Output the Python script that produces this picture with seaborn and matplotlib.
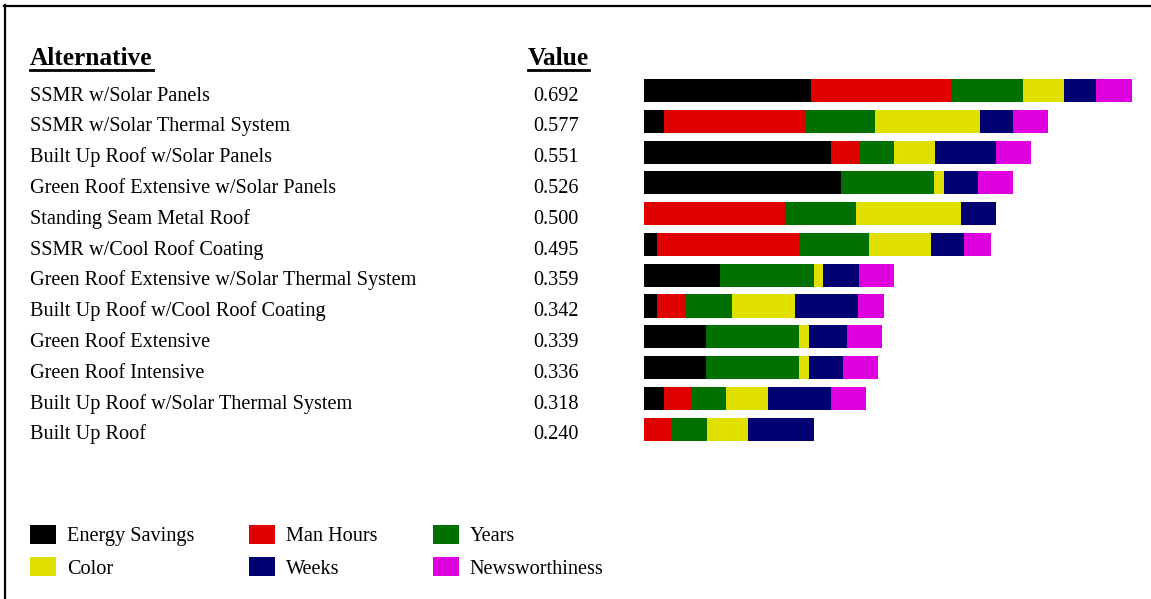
import matplotlib
matplotlib.use("Agg")
import matplotlib.pyplot as plt
from matplotlib.lines import Line2D
from matplotlib.patches import Patch
from matplotlib.transforms import IdentityTransform
import matplotlib.transforms as mtrans
import pandas as pd
import seaborn as sns

# ---------------- data ----------------
alternatives = [
    "SSMR w/Solar Panels",
    "SSMR w/Solar Thermal System",
    "Built Up Roof w/Solar Panels",
    "Green Roof Extensive w/Solar Panels",
    "Standing Seam Metal Roof",
    "SSMR w/Cool Roof Coating",
    "Green Roof Extensive w/Solar Thermal System",
    "Built Up Roof w/Cool Roof Coating",
    "Green Roof Extensive",
    "Green Roof Intensive",
    "Built Up Roof w/Solar Thermal System",
    "Built Up Roof",
]
values = ["0.692", "0.577", "0.551", "0.526", "0.500", "0.495",
          "0.359", "0.342", "0.339", "0.336", "0.318", "0.240"]

energy_savings = [0.237, 0.028, 0.265, 0.279, 0.000, 0.019, 0.108, 0.019, 0.0875, 0.0875, 0.028, 0.000]
man_hours      = [0.200, 0.2005, 0.040, 0.000, 0.200, 0.2005, 0.000, 0.040, 0.000, 0.000, 0.040, 0.039]
years          = [0.100, 0.099, 0.049, 0.132, 0.100, 0.099, 0.133, 0.066, 0.132, 0.132, 0.049, 0.050]
color_crit     = [0.059, 0.149, 0.059, 0.014, 0.149, 0.089, 0.013, 0.089, 0.014, 0.014, 0.059, 0.059]
weeks          = [0.045, 0.047, 0.086, 0.049, 0.050, 0.047, 0.051, 0.089, 0.054, 0.049, 0.089, 0.093]
newsworthiness = [0.051, 0.050, 0.050, 0.050, 0.000, 0.037, 0.050, 0.037, 0.050, 0.050, 0.050, 0.000]

criteria = ["Energy Savings", "Man Hours", "Years", "Color", "Weeks", "Newsworthiness"]
series = [energy_savings, man_hours, years, color_crit, weeks, newsworthiness]
colors = ["#000000", "#DF0000", "#007000", "#DFDF00", "#000070", "#DF00DF"]

# ---------------- figure ----------------
W, H, DPI = 1151, 599, 100
fig = plt.figure(figsize=(W / DPI, H / DPI), dpi=DPI)
fig.patch.set_facecolor("white")
ax = fig.add_axes([0, 0, 1, 1])

df = pd.DataFrame({"Alternative": alternatives})
cum = [0.0] * len(alternatives)
for name, s in zip(criteria, series):
    cum = [c + v for c, v in zip(cum, s)]
    df[name] = cum

# draw cumulative totals from the outermost segment inwards -> stacked look
for name, col in reversed(list(zip(criteria, colors))):
    sns.barplot(data=df, x=name, y="Alternative", order=alternatives, orient="h",
                color=col, saturation=1, width=0.75, errorbar=None,
                linewidth=0, ax=ax)

# pixel-based geometry of the axes
x0_px, px_per_unit = 644.0, 705.0
row0_px, row_px = 90.5, 30.79
ax.set_xlim(-x0_px / px_per_unit, (W - x0_px) / px_per_unit)
ax.set_ylim((H - row0_px) / row_px, -row0_px / row_px)
ax.axis("off")

serif = ["Liberation Serif", "DejaVu Serif"]
fs_row = 14.6
fs_head = 18.3

def fx(px):
    return px / W

def fy(px):
    return 1 - px / H

# row texts (x in figure fraction, y in data)
blend = mtrans.blended_transform_factory(fig.transFigure, ax.transData)
for i, (name, val) in enumerate(zip(alternatives, values)):
    ax.text(fx(30), i + 0.33, name, transform=blend, family=serif,
            fontsize=fs_row, va="baseline", ha="left")
    ax.text(fx(533), i + 0.33, val, transform=blend, family=serif,
            fontsize=fs_row, va="baseline", ha="left")

# headers with underline
h1 = fig.text(fx(30), fy(65), "Alternative", family=serif, fontsize=fs_head,
              fontweight="bold", va="baseline", ha="left")
h2 = fig.text(fx(528), fy(65), "Value", family=serif, fontsize=fs_head,
              fontweight="bold", va="baseline", ha="left")
fig.canvas.draw()
renderer = fig.canvas.get_renderer()
for t in (h1, h2):
    bb = t.get_window_extent(renderer)
    yline = H - 70
    fig.add_artist(Line2D([bb.x0, bb.x1], [yline, yline], color="black",
                          linewidth=2.0, transform=IdentityTransform()))

# frame (top and left edges)
fig.add_artist(Line2D([fx(4), 1], [fy(5.5), fy(5.5)], color="black",
                      linewidth=1.6, transform=fig.transFigure))
fig.add_artist(Line2D([fx(5), fx(5)], [fy(4.5), 0], color="black",
                      linewidth=1.6, transform=fig.transFigure))

# legend
legend_order = [0, 3, 1, 4, 2, 5]
handles = [Patch(facecolor=colors[k], edgecolor="none", label=criteria[k]) for k in legend_order]
leg = fig.legend(handles=handles, ncol=3, loc="upper left",
                 bbox_to_anchor=(fx(30), fy(525)), bbox_transform=fig.transFigure,
                 frameon=False, borderpad=0, borderaxespad=0,
                 prop={"family": serif, "size": fs_row},
                 handlelength=1.28, handleheight=1.065, handletextpad=0.55,
                 columnspacing=2.7, labelspacing=0.53)

fig.savefig("out.png", dpi=DPI, facecolor="white")
